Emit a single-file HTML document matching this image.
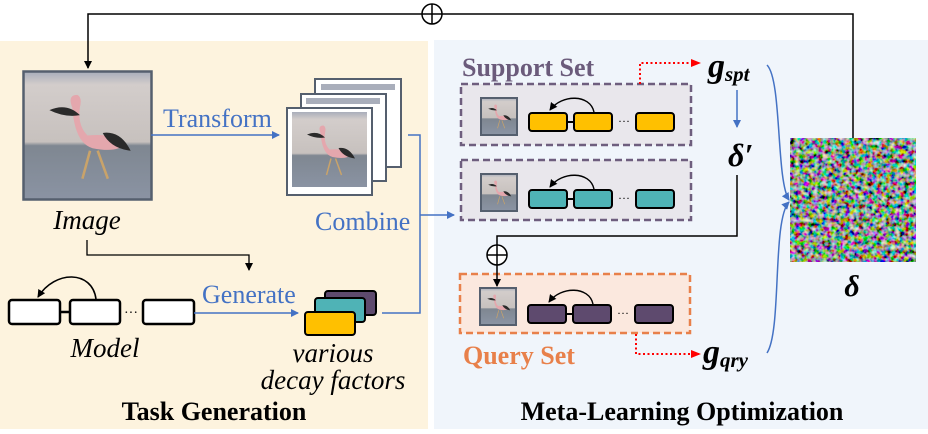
<!DOCTYPE html>
<html><head><meta charset="utf-8"><style>
body{margin:0;width:928px;height:429px;overflow:hidden;background:#fff;font-family:"Liberation Serif",serif}
</style></head><body>
<svg width="928" height="429" viewBox="0 0 928 429" xmlns="http://www.w3.org/2000/svg">
<defs>
<marker id="ab" markerWidth="8" markerHeight="8" refX="7" refY="4" orient="auto" markerUnits="userSpaceOnUse"><path d="M0,0L8,4L0,8z" fill="#4472c4"/></marker>
<marker id="ak" markerWidth="8" markerHeight="8" refX="7" refY="4" orient="auto" markerUnits="userSpaceOnUse"><path d="M0,0L8,4L0,8z" fill="#000"/></marker>
<marker id="ar" markerWidth="10" markerHeight="8" refX="9" refY="4" orient="auto" markerUnits="userSpaceOnUse"><path d="M0,0L10,4L0,8z" fill="#f00"/></marker>
<filter id="nz" x="0" y="0" width="100%" height="100%"><feTurbulence type="fractalNoise" baseFrequency="0.22" numOctaves="2" seed="3"/><feColorMatrix type="matrix" values="2.0 0 0 0 -0.72  0 2.0 0 0 -0.66  0 0 2.0 0 -0.7  0 0 0 0 1"/></filter>
<linearGradient id="im" x1="0" y1="0" x2="0" y2="1"><stop offset="0" stop-color="#a9aebb"/><stop offset="0.1" stop-color="#d3cdcb"/><stop offset="0.55" stop-color="#c7c1be"/><stop offset="0.58" stop-color="#7f8791"/><stop offset="1" stop-color="#8a93a3"/></linearGradient>
<g id="fl"><rect width="100" height="100" fill="url(#im)"/><path d="M38,28 q-4,-10 4,-10 q4,2 2,10 q-2,14 6,22 q20,-2 30,6 q-6,8 -26,4 q-14,-4 -16,-32z" fill="#e4a7ad"/><path d="M20,30 q14,-6 24,4 q-12,2 -24,-4z M62,48 q14,-2 22,14 q-16,-2 -22,-14z" fill="#2a2a2a"/><path d="M52,62 l-6,22 M58,62 l8,22" stroke="#c9a36a" stroke-width="2"/></g>
</defs>
<rect x="0" y="41" width="428" height="388" fill="#fdf3de"/>
<rect x="434" y="40" width="494" height="389" fill="#f0f5fb"/>
<path d="M853,138 V14 H88 V68" fill="none" stroke="#000" stroke-width="1.5" marker-end="url(#ak)"/>
<circle cx="432" cy="14" r="10" fill="#fff" stroke="#000" stroke-width="1.5"/><path d="M422,14H442M432,4V24" stroke="#000" stroke-width="1.5"/>
<g transform="translate(24,72) scale(1.27)"><use href="#fl"/></g>
<rect x="23.5" y="71.5" width="128" height="128" fill="none" stroke="#555f6e" stroke-width="2.5"/>
<text x="87" y="229" font-size="27" font-style="italic" text-anchor="middle">Image</text>
<path d="M151,135H279" stroke="#4472c4" stroke-width="1.5" marker-end="url(#ab)"/>
<text x="163" y="127" font-size="26" fill="#4472c4">Transform</text>
<rect x="315" y="79" width="86" height="88" fill="#fff" stroke="#555f6e" stroke-width="2"/>
<rect x="301" y="94" width="85" height="87" fill="#fff" stroke="#555f6e" stroke-width="2"/>
<rect x="287" y="108" width="85" height="87" fill="#fff" stroke="#555f6e" stroke-width="2"/>
<g transform="translate(292,112) scale(0.75,0.75)"><use href="#fl"/></g>
<rect x="306" y="98" width="74" height="6" fill="#a9aebb"/><rect x="321" y="84" width="74" height="6" fill="#a9aebb"/>
<text x="315" y="230" font-size="26" fill="#4472c4">Combine</text>
<path d="M408,135H420V313H382" fill="none" stroke="#4472c4" stroke-width="1.5"/>
<path d="M420,215H454" stroke="#4472c4" stroke-width="1.5" marker-end="url(#ab)"/>
<path d="M87,240V255H249V270" fill="none" stroke="#000" stroke-width="1.3" marker-end="url(#ak)"/>
<g fill="#fff" stroke="#000" stroke-width="2.5"><rect x="9" y="300" width="51" height="24" rx="3"/><rect x="70" y="300" width="50" height="24" rx="3"/><rect x="143" y="300" width="51" height="24" rx="3"/></g>
<path d="M60,312H70" stroke="#000" stroke-width="2.5"/><text x="131" y="317" font-size="14" text-anchor="middle">···</text>
<path d="M96,299 C92,270 55,270 38,297" fill="none" stroke="#000" stroke-width="1.6" marker-end="url(#ak)"/>
<text x="105" y="357" font-size="27" font-style="italic" text-anchor="middle">Model</text>
<path d="M194,313H298" stroke="#4472c4" stroke-width="1.5" marker-end="url(#ab)"/>
<text x="202" y="303" font-size="26" fill="#4472c4">Generate</text>
<g stroke="#000" stroke-width="2"><rect x="325" y="291" width="51" height="24" rx="3" fill="#5e4a6e"/><rect x="315" y="298" width="50" height="24" rx="3" fill="#4fb3b6"/><rect x="305" y="312" width="50" height="23" rx="3" fill="#ffc000"/></g>
<text x="333" y="362" font-size="27" font-style="italic" text-anchor="middle">various</text>
<text x="333" y="389" font-size="27" font-style="italic" text-anchor="middle">decay factors</text>
<text x="214" y="420" font-size="26" font-weight="bold" text-anchor="middle">Task Generation</text>
<text x="462" y="76" font-size="26" font-weight="bold" fill="#6b5b7b">Support Set</text>
<rect x="461" y="84" width="230" height="61" fill="#e9e7ec" stroke="#6e5e7e" stroke-width="2.5" stroke-dasharray="7,4"/>
<rect x="461" y="160" width="230" height="60" fill="#e9e7ec" stroke="#6e5e7e" stroke-width="2.5" stroke-dasharray="7,4"/>
<rect x="460" y="274" width="230" height="59" fill="#fbe8de" stroke="#e8804a" stroke-width="2.5" stroke-dasharray="7,4"/>
<g transform="translate(481,98) scale(0.36)"><use href="#fl"/></g><rect x="481" y="98" width="36" height="37" fill="none" stroke="#555f6e" stroke-width="2"/>
<g transform="translate(481,174) scale(0.36)"><use href="#fl"/></g><rect x="481" y="174" width="36" height="37" fill="none" stroke="#555f6e" stroke-width="2"/>
<g transform="translate(480,288) scale(0.36)"><use href="#fl"/></g><rect x="480" y="288" width="36" height="37" fill="none" stroke="#555f6e" stroke-width="2"/>
<g stroke="#000" stroke-width="2">
<rect x="529" y="113" width="38" height="18" rx="3" fill="#ffc000"/><rect x="574" y="113" width="38" height="18" rx="3" fill="#ffc000"/><rect x="636" y="113" width="38" height="18" rx="3" fill="#ffc000"/><path d="M567,122H574"/>
<rect x="529" y="190" width="38" height="18" rx="3" fill="#4fb3b6"/><rect x="574" y="190" width="38" height="18" rx="3" fill="#4fb3b6"/><rect x="636" y="190" width="38" height="18" rx="3" fill="#4fb3b6"/><path d="M567,199H574"/>
<rect x="528" y="305" width="38" height="18" rx="3" fill="#5e4a6e"/><rect x="573" y="305" width="38" height="18" rx="3" fill="#5e4a6e"/><rect x="635" y="305" width="38" height="18" rx="3" fill="#5e4a6e"/><path d="M566,314H573"/>
</g>
<g font-size="12" text-anchor="middle"><text x="624" y="125">···</text><text x="624" y="202">···</text><text x="623" y="317">···</text></g>
<g fill="none" stroke="#000" stroke-width="1.4">
<path d="M594,112 C590,94 562,94 550,110" marker-end="url(#ak)"/>
<path d="M594,189 C590,171 562,171 550,187" marker-end="url(#ak)"/>
<path d="M593,304 C589,286 561,286 549,302" marker-end="url(#ak)"/>
</g>
<path d="M640,84V63H700" fill="none" stroke="#f00" stroke-width="2" stroke-dasharray="2,2.5" marker-end="url(#ar)"/>
<text x="708" y="77" font-size="34" font-weight="bold" font-style="italic">g<tspan font-size="21" dy="4">spt</tspan></text>
<path d="M737,90V127" stroke="#4472c4" stroke-width="1.5" marker-end="url(#ab)"/>
<text x="728" y="166" font-size="32" font-weight="bold" font-style="italic">δ′</text>
<path d="M737,175V236H497V286" fill="none" stroke="#000" stroke-width="1.5" marker-end="url(#ak)"/>
<circle cx="497" cy="255" r="10" fill="#fff" stroke="#000" stroke-width="1.5"/><path d="M487,255H507M497,245V265" stroke="#000" stroke-width="1.5"/>
<text x="463" y="364" font-size="26" font-weight="bold" fill="#e8804a">Query Set</text>
<path d="M636,334V354H700" fill="none" stroke="#f00" stroke-width="2" stroke-dasharray="2,2.5" marker-end="url(#ar)"/>
<text x="703" y="363" font-size="34" font-weight="bold" font-style="italic">g<tspan font-size="21" dy="4">qry</tspan></text>
<path d="M767,65 C782,80 776,180 789,200" fill="none" stroke="#4472c4" stroke-width="1.5" marker-end="url(#ab)"/>
<path d="M767,353 C782,330 772,220 789,202" fill="none" stroke="#4472c4" stroke-width="1.5" marker-end="url(#ab)"/>
<rect x="790" y="138" width="126" height="124" fill="#777" filter="url(#nz)"/>
<text x="852" y="296" font-size="30" font-weight="bold" font-style="italic" text-anchor="middle">δ</text>
<text x="682" y="420" font-size="26" font-weight="bold" text-anchor="middle">Meta-Learning Optimization</text>
</svg>
</body></html>
